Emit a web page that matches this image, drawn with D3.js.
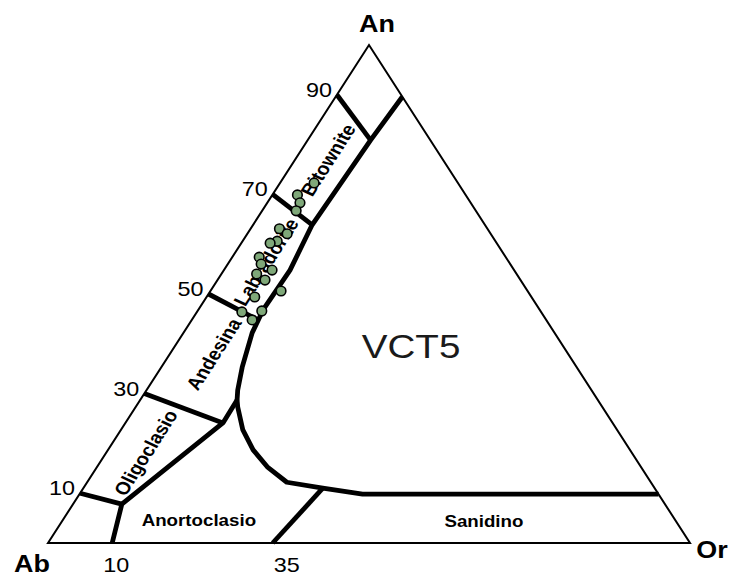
<!DOCTYPE html>
<html>
<head>
<meta charset="utf-8">
<script src="https://cdn.jsdelivr.net/npm/d3@7/dist/d3.min.js"></script>
<style>
  body { margin: 0; background: #fff; }
  svg { display: block; }
  text { font-family: "Liberation Sans", Arial, Helvetica, sans-serif; fill: #000; }
</style>
</head>
<body>
<svg id="chart" width="733" height="577"></svg>
<script>
// Feldspar ternary diagram Ab - An - Or.
// Every composition is written as [An, Or] in mol %; Ab is the remainder.

const vertexNames = ["Ab", "An", "Or"];
const vertices = [[0, 0], [100, 0], [0, 100]];

const anTicks = [10, 30, 50, 70, 90];
const orTicks = [10, 35];

// Limit of the plagioclase field, from the An-Or side down to the triple junction
const plagioclaseLimit = [[89.6, 10.4], [80.9, 9.8], [63.9, 9.2], [54.8, 10.3], [46.8, 10.1],
  [42.2, 10.7], [35.3, 12.6], [30.7, 14.2], [28.7, 15.1]];
// Oligoclase / anorthoclase limit, down to the Ab-Or side
const oligoclaseLimit = [[28.7, 15.1], [24.1, 15.2], [7.8, 7.6], [0, 10]];
// Limit of the sanidine field (curved part, then along An = 10)
const sanidineLimit = [[28.7, 15.1], [27.3, 15.9], [22.7, 19.0], [18.7, 22.6], [15.3, 26.5],
  [12.2, 31.1], [11.0, 37.3], [9.8, 44.1], [9.8, 90.2]];
// Anorthoclase / sanidine divide
const sanidineDivide = [[11.0, 37.3], [0, 35]];
// Plagioclase divides starting on the Ab-An side
const plagioclaseDivides = [
  [[10, 0], [7.8, 7.6]],
  [[30, 0], [24.1, 15.2]],
  [[50, 0], [44.8, 10.3]],
  [[70, 0], [63.9, 9.2]],
  [[90, 0], [80.9, 9.8]]
];

const fieldNames = ["Bitownite", "Labradorite", "Andesina", "Oligoclasio", "Anortoclasio", "Sanidino"];
const fieldAlongSide = [true, true, true, true, false, false];

// Sample VCT5 analyses [An, Or]
const sampleAn = [72.3, 69.9, 68.3, 66.7, 63.1, 62.1, 60.6, 60.2, 57.4, 56.0,
  54.8, 54.0, 52.8, 50.6, 49.4, 46.4, 46.6, 44.8];
const sampleOr = [5.3, 3.9, 5.1, 5.3, 4.5, 6.2, 5.4, 4.5, 4.2, 5.2,
  7.5, 5.5, 7.4, 11.0, 7.5, 7.0, 10.0, 9.4];

const sampleName = "VCT5";

// ---------- layout ----------
const svg = d3.select("#chart");
const yScale = d3.scaleLinear().domain([0, 100]).range([543, 45]);   // An
const xScale = d3.scaleLinear().domain([0, 100]).range([48, 690]);   // Or + An/2
const project = ([an, or]) => [xScale(or + an / 2), yScale(an)];
const stretch = 1.17;                                                  // horizontal text stretch
const sideAngle = Math.atan2(yScale(0) - yScale(100), (xScale(50) - xScale(0)) / stretch) * 180 / Math.PI;

const line = d3.line().x(d => project(d)[0]).y(d => project(d)[1]);

// Triangle outline
svg.append("path")
  .attr("d", line(vertices) + "Z")
  .attr("fill", "none").attr("stroke", "#000").attr("stroke-width", 2)
  .attr("stroke-linejoin", "miter");

// Field boundaries
const thick = [plagioclaseLimit, oligoclaseLimit, sanidineLimit, sanidineDivide, ...plagioclaseDivides];
svg.append("g").selectAll("path").data(thick).join("path")
  .attr("d", line)
  .attr("fill", "none").attr("stroke", "#000").attr("stroke-width", 4.8)
  .attr("stroke-linejoin", "round");

// Tick labels on the Ab-An side
svg.append("g").selectAll("text").data(anTicks).join("text")
  .attr("transform", d => {
    const [x, y] = project([d, 0]);
    return `translate(${x - 5},${y + 2}) scale(${stretch},1)`;
  })
  .attr("text-anchor", "end")
  .attr("font-size", 20)
  .text(d => d);

// Tick labels on the Ab-Or side
svg.append("g").selectAll("text").data(orTicks).join("text")
  .attr("transform", d => {
    const [x, y] = project([0, d]);
    return `translate(${x + (d > 20 ? 14 : 4)},${y + 29}) scale(${stretch},1)`;
  })
  .attr("text-anchor", "middle")
  .attr("font-size", 20)
  .text(d => d);

// Vertex names
const vertexOffsets = [[-16, 29], [8, -13], [22, 15]];
svg.append("g").selectAll("text").data(vertices).join("text")
  .attr("transform", (d, i) => {
    const [x, y] = project(d);
    return `translate(${x + vertexOffsets[i][0]},${y + vertexOffsets[i][1]}) scale(${stretch},1)`;
  })
  .attr("text-anchor", "middle")
  .attr("font-size", 23).attr("font-weight", "bold")
  .text((d, i) => vertexNames[i]);

// Field names
const fieldAnchors = [[76.9, 5.2], [56.4, 5.8], [37.9, 6.9], [18.1, 6.2], [4.6, 21.2], [4.4, 65.7]];
svg.append("g").selectAll("text").data(fieldNames).join("text")
  .attr("transform", (d, i) => {
    const [x, y] = project(fieldAnchors[i]);
    return fieldAlongSide[i]
      ? `translate(${x},${y}) scale(${stretch},1) rotate(${-sideAngle})`
      : `translate(${x},${y}) scale(${stretch},1.06)`;
  })
  .attr("text-anchor", "middle")
  .attr("dominant-baseline", "central")
  .attr("font-size", (d, i) => fieldAlongSide[i] ? 17.5 : 16)
  .attr("font-weight", "bold")
  .text(d => d);

// Sample name
{
  const [x, y] = project([37.1, 38.0]);
  svg.append("text")
    .attr("transform", `translate(${x},${y}) scale(${stretch},1)`)
    .attr("text-anchor", "middle")
    .attr("font-size", 33)
    .style("fill", "#1a1a1a")
    .text(sampleName);
}

// Sample points
svg.append("g").selectAll("circle").data(sampleAn.map((a, i) => [a, sampleOr[i]])).join("circle")
  .attr("cx", d => project(d)[0])
  .attr("cy", d => project(d)[1])
  .attr("r", 4.8)
  .attr("fill", "#7fa879")
  .attr("stroke", "#000").attr("stroke-width", 1.6);
</script>
</body>
</html>
